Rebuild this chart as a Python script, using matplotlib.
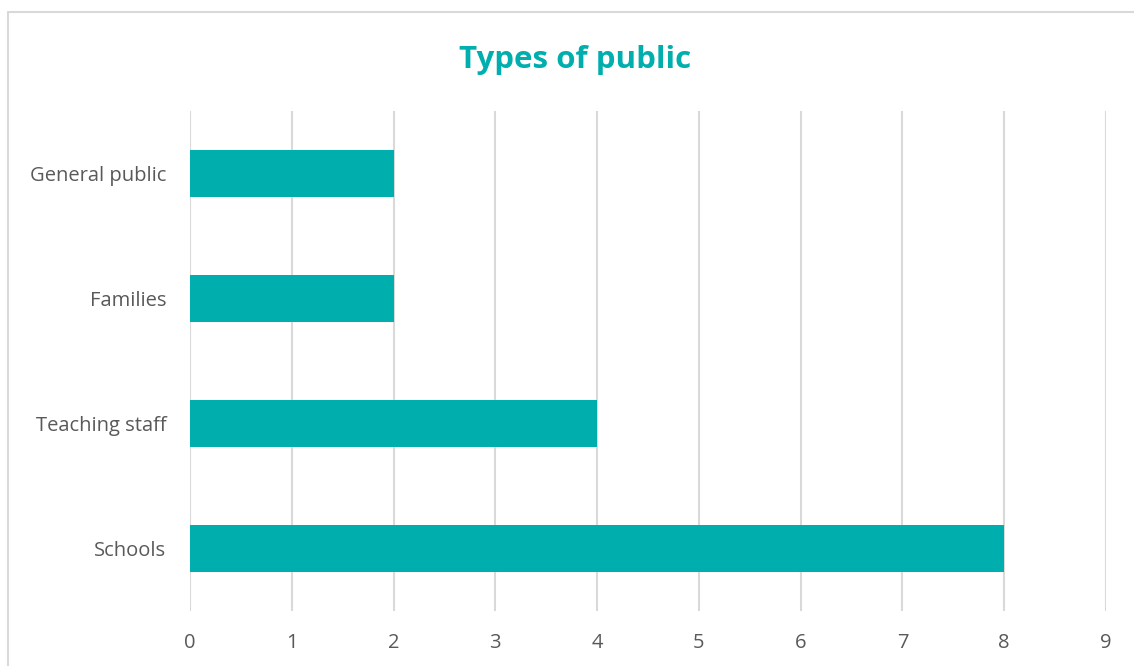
import matplotlib.pyplot as plt
from matplotlib.patches import Rectangle

# data, bottom to top as drawn
categories = ["Schools", "Teaching staff", "Families", "General public"]
counts = [8, 4, 2, 2]
x_ticks = list(range(0, 10))

teal = "#00AEAE"
text_gray = "#595959"
grid_gray = "#D9D9D9"

plt.rcParams['font.family'] = ['Open Sans', 'DejaVu Sans']

fig = plt.figure(figsize=(11.34, 6.66), dpi=100)
ax = fig.add_axes([0.1675, 0.0826, 0.8078, 0.7507])

ax.barh(categories, counts, height=0.37, color=teal, zorder=3)

ax.set_xlim(0, 9)
ax.set_ylim(-0.5, len(categories) - 0.5)
ax.set_xticks(x_ticks)
ax.grid(axis="x", color=grid_gray, linewidth=1.5, zorder=0)
ax.grid(axis="y", visible=False)
for s in ax.spines.values():
    s.set_visible(False)
ax.tick_params(axis="both", length=0, labelsize=14.5, labelcolor=text_gray)
ax.tick_params(axis="x", pad=16)
ax.tick_params(axis="y", pad=17)

fig.suptitle("Types of public", x=0.507, y=0.932, fontsize=22.5, fontweight="bold",
             color=teal)

# chart border
fig.patches.append(Rectangle((8 / 1134, -0.1), 1.2, 1 - 12 / 666 + 0.1,
                             transform=fig.transFigure, fill=False,
                             edgecolor="#D9D9D9", linewidth=1.5))

fig.savefig("out.png", dpi=100)
